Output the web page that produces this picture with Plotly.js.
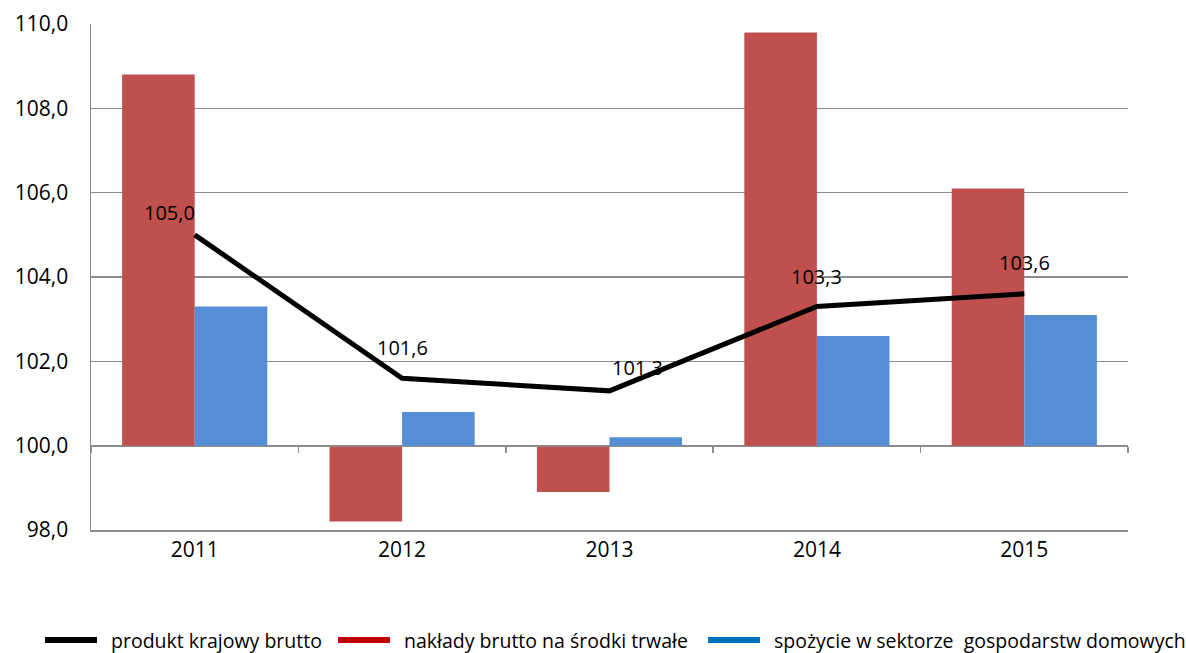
<!DOCTYPE html>
<html>
<head>
<meta charset="utf-8">
<script src="https://cdn.plot.ly/plotly-3.0.1.min.js"></script>
<style>html,body{margin:0;padding:0;background:#fff;}#chart{width:1186px;height:653px;}</style>
</head>
<body>
<div id="chart"></div>
<script>
const years = ['2011', '2012', '2013', '2014', '2015'];
const gdp = [105.0, 101.6, 101.3, 103.3, 103.6];
const investment = [108.8, 98.2, 98.9, 109.8, 106.1];
const consumption = [103.3, 100.8, 100.2, 102.6, 103.1];
const seriesNames = ['produkt krajowy brutto', 'nakłady brutto na środki trwałe', 'spożycie w sektorze  gospodarstw domowych'];
const yTicks = [98, 100, 102, 104, 106, 108, 110];
const baseLevel = 100;

// styling: label offsets and legend layout (pixels)
const labelShift = [[-25, 22], [0, 31], [28, 23], [0, 30], [0, 31]];
const legendColors = ['#000000', '#C00000', '#0070C0'];
const legendStartPx = [45, 338, 708];
const M = {l: 91, r: 58, t: 24, b: 123};
const W = 1186, H = 653;

const FONT = 'Open Sans, sans-serif';
const fmt = v => v.toFixed(1).replace('.', ',');
const catRange = [-0.5, years.length - 0.5];
const plotW = W - M.l - M.r, plotH = H - M.t - M.b;
const px2x = px => (px - M.l) / plotW;
const legendY = (H - M.b - 640) / plotH;

const traces = [
  {
    type: 'bar', x: years, y: investment.map(v => v - baseLevel), base: baseLevel,
    name: seriesNames[1], marker: {color: '#C0504D'}, hoverinfo: 'skip'
  },
  {
    type: 'bar', x: years, y: consumption.map(v => v - baseLevel), base: baseLevel,
    name: seriesNames[2], marker: {color: '#558ED5'}, hoverinfo: 'skip'
  },
  {
    type: 'scatter', mode: 'lines', x: years, y: gdp, xaxis: 'x2', yaxis: 'y',
    name: seriesNames[0], line: {color: '#000000', width: 5}
  }
];

const annotations = gdp.map((v, i) => ({
  x: i, y: v, xref: 'x', yref: 'y', text: fmt(v), showarrow: false,
  xshift: labelShift[i][0], yshift: labelShift[i][1],
  font: {family: FONT, size: 20, color: '#000'}
}));

const shapes = [];
seriesNames.forEach((name, i) => {
  const x0 = legendStartPx[i];
  shapes.push({
    type: 'line', xref: 'paper', yref: 'paper',
    x0: px2x(x0), x1: px2x(x0 + 52), y0: legendY, y1: legendY,
    line: {color: legendColors[i], width: 6}
  });
  annotations.push({
    xref: 'paper', yref: 'paper', x: px2x(x0 + 64), y: legendY,
    xanchor: 'left', yanchor: 'middle', showarrow: false, text: name,
    font: {family: FONT, size: 19.5, color: '#000'}
  });
});

const layout = {
  width: W, height: H,
  margin: {l: M.l, r: M.r, t: M.t, b: M.b, autoexpand: false},
  paper_bgcolor: '#fff', plot_bgcolor: '#fff',
  barmode: 'group', bargap: 0.3, bargroupgap: 0,
  font: {family: FONT, size: 20, color: '#000'},
  separators: ', ',
  showlegend: false,
  xaxis: {
    type: 'category', categoryorder: 'array', categoryarray: years, range: catRange,
    showline: true, linecolor: '#8c8c8c', linewidth: 1.5,
    showgrid: false, ticks: '', zeroline: false,
    tickfont: {family: FONT, size: 21, color: '#000'}
  },
  xaxis2: {
    type: 'category', categoryorder: 'array', categoryarray: years, range: catRange,
    overlaying: 'x', anchor: 'free',
    position: (baseLevel - yTicks[0]) / (yTicks[yTicks.length - 1] - yTicks[0]),
    showline: true, linecolor: '#8c8c8c', linewidth: 1.5,
    ticks: 'outside', tickson: 'boundaries', ticklen: 6, tickcolor: '#8c8c8c', tickwidth: 1.5,
    showticklabels: false, showgrid: false, zeroline: false
  },
  yaxis: {
    range: [yTicks[0], yTicks[yTicks.length - 1]],
    tickvals: yTicks, ticktext: yTicks.map(fmt),
    showline: true, linecolor: '#8c8c8c', linewidth: 1.5,
    showgrid: true, gridcolor: '#8c8c8c', gridwidth: 1.5,
    zeroline: false, ticks: '', ticklabelstandoff: 17,
    tickfont: {family: FONT, size: 21, color: '#000'}
  },
  shapes: shapes,
  annotations: annotations
};

Plotly.newPlot('chart', traces, layout, {staticPlot: true, displayModeBar: false});
</script>
</body>
</html>
